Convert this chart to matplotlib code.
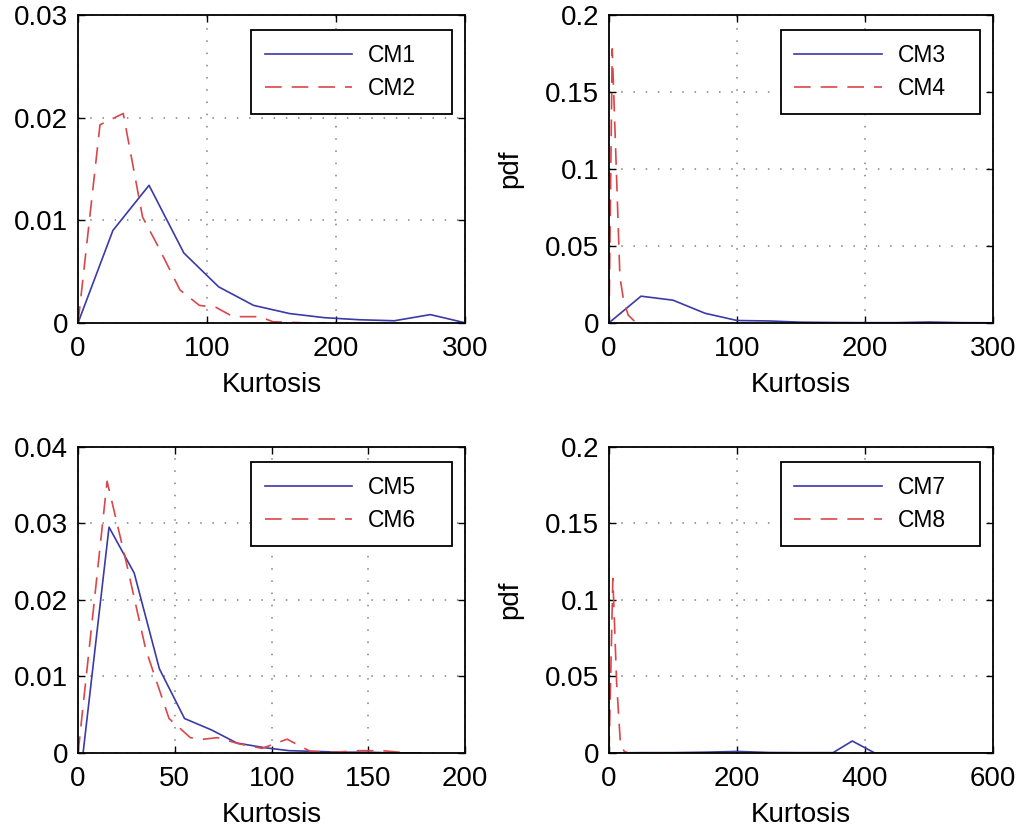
import numpy as np
import matplotlib
matplotlib.use("Agg")
import matplotlib.pyplot as plt

# kurtosis pdf estimates
cm1_x = [0, 27, 55, 82, 109, 136, 164, 191, 218, 245, 273, 300]
cm1_y = [0, 0.0090, 0.0134, 0.0068, 0.0035, 0.0017, 0.0009, 0.0005, 0.0003, 0.0002, 0.0008, 0.0]
cm2_x = [0, 17, 35, 50, 61, 79, 94, 107, 120, 141, 151, 175, 192]
cm2_y = [0, 0.0193, 0.0204, 0.0103, 0.0077, 0.0032, 0.0017, 0.0015, 0.0006, 0.0006, 0.0001, 0.0, 0.0]

cm3_x = [0, 25, 50, 75, 100, 125, 150, 175, 200, 225, 250, 275, 300]
cm3_y = [0, 0.0173, 0.0147, 0.0062, 0.0015, 0.0012, 0.0004, 0.0002, 0.0001, 0.0001, 0.0005, 0.0001, 0.0]
cm4_x = [0, 2.5, 5.5, 8.5, 11.5, 15, 20, 25]
cm4_y = [0, 0.178, 0.105, 0.030, 0.014, 0.005, 0.001, 0.0]

cm5_x = [2.6, 16, 29, 42, 55, 69, 82, 96, 109, 123, 136, 150, 163, 177]
cm5_y = [0, 0.0295, 0.0235, 0.0110, 0.0045, 0.0030, 0.0013, 0.0007, 0.0003, 0.0002, 0.0001, 0.0001, 0.0, 0.0]
cm6_x = [0, 15, 25, 35, 47, 58, 65, 72, 83, 95, 108, 120, 133, 145, 157, 170]
cm6_y = [0, 0.0355, 0.0248, 0.0135, 0.0045, 0.0020, 0.0018, 0.0020, 0.0012, 0.0006, 0.0018, 0.0002, 0.0001, 0.0003, 0.0003, 0.0]

cm7_x = [0, 50, 100, 150, 200, 250, 300, 350, 380, 415, 600]
cm7_y = [0, 0.0002, 0.0002, 0.0005, 0.0010, 0.0003, 0.0002, 0.0002, 0.0078, 0.0, 0.0]
cm8_x = [0, 6, 12, 18, 24, 30, 100]
cm8_y = [0, 0.114, 0.045, 0.005, 0.001, 0.0, 0.0]

plt.rcParams['font.family'] = ['Liberation Sans', 'DejaVu Sans']
plt.rcParams['font.size'] = 20

blue = '#3a3aa8'
red = '#d9474a'

fig = plt.figure(figsize=(10.27, 8.32), dpi=100)

panels = [
    # rect, xs, ys, labels, xticks, yticks, ytick labels, ylabel
    ([0.076, 0.612, 0.377, 0.370], (cm1_x, cm1_y), (cm2_x, cm2_y), ('CM1', 'CM2'),
     [0, 100, 200, 300], [0, 0.01, 0.02, 0.03], ['0', '0.01', '0.02', '0.03'], ''),
    ([0.593, 0.612, 0.374, 0.370], (cm3_x, cm3_y), (cm4_x, cm4_y), ('CM3', 'CM4'),
     [0, 100, 200, 300], [0, 0.05, 0.1, 0.15, 0.2], ['0', '0.05', '0.1', '0.15', '0.2'], 'pdf'),
    ([0.076, 0.095, 0.377, 0.368], (cm5_x, cm5_y), (cm6_x, cm6_y), ('CM5', 'CM6'),
     [0, 50, 100, 150, 200], [0, 0.01, 0.02, 0.03, 0.04], ['0', '0.01', '0.02', '0.03', '0.04'], ''),
    ([0.593, 0.095, 0.374, 0.368], (cm7_x, cm7_y), (cm8_x, cm8_y), ('CM7', 'CM8'),
     [0, 200, 400, 600], [0, 0.05, 0.1, 0.15, 0.2], ['0', '0.05', '0.1', '0.15', '0.2'], 'pdf'),
]

for rect, s1, s2, labs, xt, yt, ytl, ylab in panels:
    ax = fig.add_axes(rect)
    ax.plot(s1[0], s1[1], color=blue, lw=1.2, label=labs[0])
    ax.plot(s2[0], s2[1], color=red, lw=1.2, dashes=(10, 6), label=labs[1])
    ax.set_xlim(xt[0], xt[-1])
    ax.set_ylim(yt[0], yt[-1])
    ax.set_xticks(xt)
    ax.set_xticklabels([str(v) for v in xt])
    ax.set_yticks(yt)
    ax.set_yticklabels(ytl)
    ax.grid(True, color='#808080', lw=1.1, linestyle=(0, (1, 7)))
    ax.tick_params(direction='in', length=5, width=1, top=True, right=True)
    ax.tick_params(axis='x', pad=9.5)
    ax.tick_params(axis='y', pad=7)
    for sp in ax.spines.values():
        sp.set_linewidth(1.3)
    ax.set_xlabel('Kurtosis', labelpad=7)
    if ylab:
        ax.set_ylabel(ylab, labelpad=16)
    # box stretched to the width seen in the figure, entries left-aligned
    leg = ax.legend(loc='upper left', bbox_to_anchor=(0.447, 0.5, 0.52, 0.45),
                    mode='expand', borderaxespad=0,
                    fancybox=False, framealpha=1, edgecolor='black',
                    fontsize=16.5, handlelength=3.8, handletextpad=0.7, borderpad=0.6,
                    labelspacing=0.45)
    leg.get_frame().set_linewidth(1.3)

fig.savefig('out.png', dpi=100)
